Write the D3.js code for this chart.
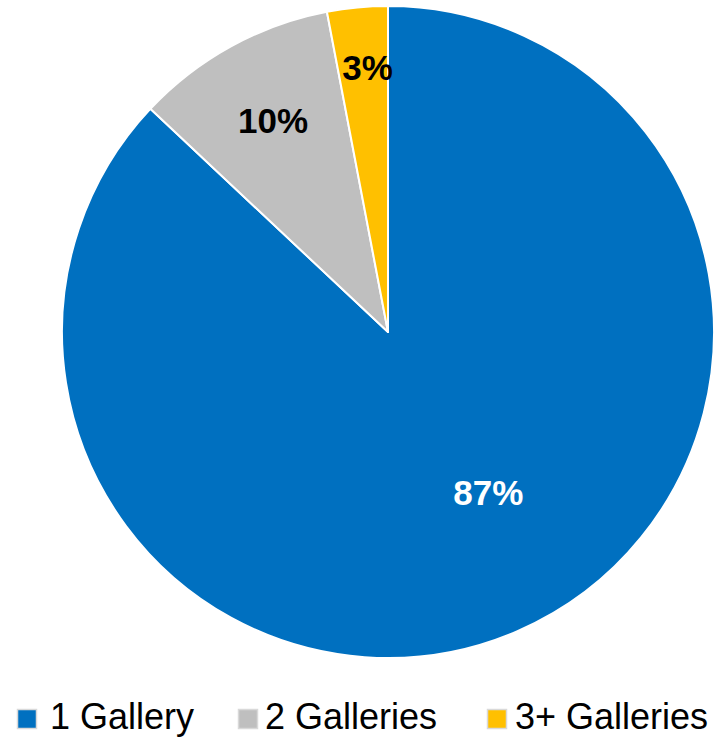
<!DOCTYPE html>
<html>
<head>
<meta charset="utf-8">
<script src="https://cdn.jsdelivr.net/npm/d3@7"></script>
<style>
  html, body { margin: 0; padding: 0; background: #fff; }
  svg { display: block; }
  text { font-family: "Liberation Sans", Arial, Helvetica, sans-serif; }
</style>
</head>
<body>
<svg id="chart" width="715" height="738"></svg>
<script>
// ---- Data ----
const categories = ["1 Gallery", "2 Galleries", "3+ Galleries"];
const values = [87, 10, 3];
const labels = ["87%", "10%", "3%"];

// ---- Style / layout ----
const colors = ["#0070C0", "#BFBFBF", "#FFC000"];
const labelColors = ["#FFFFFF", "#000000", "#000000"];
const labelRadiusFrac = [0.579, 0.739, 0.813];
const labelAngleOffsetDeg = [-8.7, 0.3, 1.0];
const cx = 388, cy = 332, R = 326;

const svg = d3.select("#chart");

const pie = d3.pie().sort(null).value(d => d)
  .startAngle(0).endAngle(2 * Math.PI);
const arcs = pie(values);
const arc = d3.arc().innerRadius(0).outerRadius(R);

const g = svg.append("g").attr("transform", `translate(${cx},${cy})`);

g.selectAll("path.slice")
  .data(arcs)
  .join("path")
  .attr("class", "slice")
  .attr("d", arc)
  .attr("fill", (d, i) => colors[i])
  .attr("stroke", "#FFFFFF")
  .attr("stroke-width", 2)
  .attr("stroke-linejoin", "round");

g.selectAll("text.lbl")
  .data(arcs)
  .join("text")
  .attr("class", "lbl")
  .attr("transform", (d, i) => {
    const a = (d.startAngle + d.endAngle) / 2 + labelAngleOffsetDeg[i] * Math.PI / 180;
    const r = labelRadiusFrac[i] * R;
    return `translate(${r * Math.sin(a)},${-r * Math.cos(a)})`;
  })
  .attr("text-anchor", "middle")
  .attr("dy", "0.36em")
  .attr("font-size", 35)
  .attr("font-weight", "bold")
  .attr("fill", (d, i) => labelColors[i])
  .text((d, i) => labels[i]);

// ---- Legend ----
const legendX = [17, 238, 487];
const legendTextX = [50, 265, 515];
const legendBaseline = 729;
const sq = 19;

const lg = svg.append("g").attr("class", "legend");
const items = lg.selectAll("g.item")
  .data(categories)
  .join("g")
  .attr("class", "item");

items.append("rect")
  .attr("x", (d, i) => legendX[i] + 0.5)
  .attr("y", 709.5)
  .attr("width", sq)
  .attr("height", sq)
  .attr("fill", (d, i) => colors[i])
  .attr("stroke", "#D9D9D9")
  .attr("stroke-width", 1.5);

items.append("text")
  .attr("x", (d, i) => legendTextX[i])
  .attr("y", legendBaseline)
  .attr("font-size", 36)
  .attr("fill", "#000")
  .text(d => d);
</script>
</body>
</html>
